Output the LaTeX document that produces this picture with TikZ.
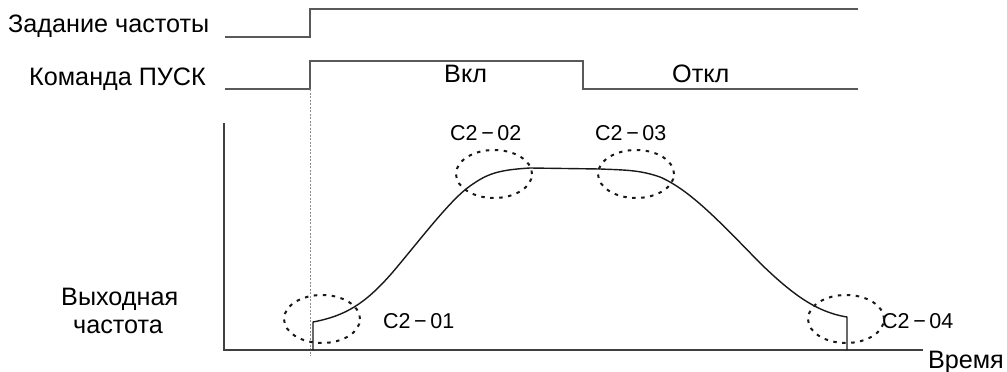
\documentclass[tikz,border=0pt]{standalone}
\usepackage{fontspec}
\setmainfont{Liberation Sans}
\usetikzlibrary{shapes.geometric}
\begin{document}
\begin{tikzpicture}[x=1pt,y=-1pt,
  sig/.style={line width=1.4pt, draw=black!65},
  axisline/.style={line width=1.4pt, draw=black!75},
  curve/.style={line width=1.4pt, draw=black!90},
  zone/.style={line width=2pt, draw=black!90, dash pattern=on 3.5pt off 5.5pt, ellipse, minimum width=76pt, minimum height=48pt, inner sep=0pt},
  guide/.style={line width=0.6pt, draw=black!45, dash pattern=on 2pt off 1.5pt},
  txt/.style={font=\fontsize{25.2}{29}\selectfont, inner sep=0pt, anchor=base west},
  code/.style={font=\fontsize{21.5}{25}\selectfont, inner sep=0pt, anchor=base west}]
\useasboundingbox (0,0) rectangle (1007,372);

% labels
\node[txt] (zad) at (8,32) {Задание частоты};
\node[txt] (kom) at (29,85) {Команда ПУСК};
\node[txt] (vkl) at (444,82) {Вкл};
\node[txt] (otkl) at (672,82) {Откл};
\node[txt] (vyh1) at (61,305) {Выходная};
\node[txt] (vyh2) at (73,333) {частота};
\node[txt, anchor=base east] (vrem) at (1004,368) {Время};
\node[code] (c1) at (383,328) {C2\,−\,01};
\node[code] (c2) at (450,140) {C2\,−\,02};
\node[code] (c3) at (595,140) {C2\,−\,03};
\node[code] (c4) at (882,328) {C2\,−\,04};

% signal coordinates
\coordinate (zs) at (225,37);
\coordinate (zr) at (310,37);
\coordinate (zt) at (310,9);
\coordinate (ze) at (858,9);
\coordinate (ks) at (225,89);
\coordinate (kr) at (310,89);
\coordinate (kt) at (310,61);
\coordinate (kf) at (583,61);
\coordinate (kb) at (583,89);
\coordinate (ke) at (858,89);
\draw[sig] (zs) -- (zr) -- (zt) -- (ze);
\draw[sig] (ks) -- (kr) -- (kt) -- (kf) -- (kb) -- (ke);

% guide
\coordinate (gb) at (310,356);
\draw[guide] (kr) -- (gb);

% axes
\coordinate (o) at (224,350);
\coordinate (ytop) at (224,123);
\coordinate (xend) at (923,350);
\draw[axisline] (ytop) -- (o) -- (xend);

% output frequency curve
\coordinate (s0) at (313,350);
\coordinate (s1) at (313,322);
\coordinate (e1) at (847,317);
\coordinate (e0) at (847,350);
\draw[curve, line join=round] (s0) -- (s1)
  .. controls (345,316) and (365,304) .. (392,273)
  .. controls (420,240) and (450,200) .. (470,186)
  .. controls (487,174) and (497,170) .. (530,168)
  -- (600,169)
  .. controls (625,170) and (640,170) .. (660,177)
  .. controls (690,190) and (720,222) .. (760,263)
  .. controls (790,292) and (815,312) .. (e1) -- (e0);

% zones
\node[zone] (z1) at (322,319) {};
\node[zone] (z2) at (494,174) {};
\node[zone] (z3) at (636,174) {};
\node[zone] (z4) at (846,319) {};
\end{tikzpicture}
\end{document}
